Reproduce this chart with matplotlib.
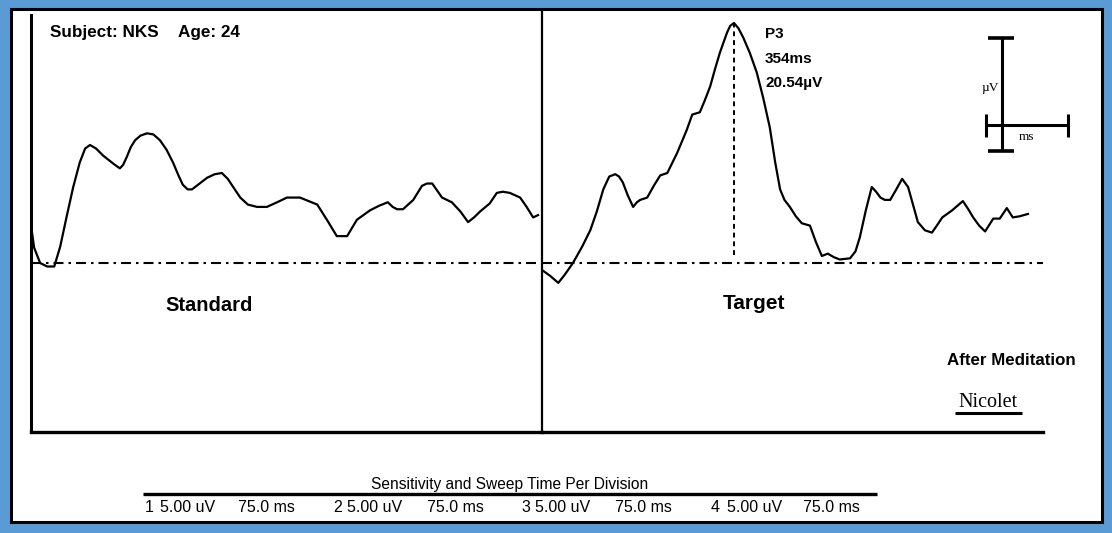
import matplotlib.pyplot as plt
from matplotlib.lines import Line2D
from matplotlib.patches import Rectangle

W, H = 1112, 533

# averaged ERP waveforms (ms after stimulus, microvolts)
standard_ms = [0, 4, 15, 28, 41, 52, 64, 76, 88, 98, 107, 118, 131, 150, 162, 168,
               175, 182, 190, 200, 212, 224, 236, 248, 260, 270, 278, 287, 295, 309,
               323, 337, 350, 361, 371, 384, 398, 415, 433, 452, 470, 494, 510, 526,
               545, 562, 581, 590, 599, 611, 623, 640, 656, 665, 673, 684, 703, 711,
               719, 728, 738, 747, 756, 774, 790, 804, 815, 826, 844, 857, 868, 881,
               900, 912, 924, 933]
standard_uv = [2.6, 1.3, 0.0, -0.3, -0.3, 1.4, 4.0, 6.5, 8.6, 9.8, 10.1, 9.8, 9.2,
               8.5, 8.1, 8.4, 9.1, 9.9, 10.5, 10.9, 11.1, 11.0, 10.5, 9.7, 8.6, 7.5,
               6.7, 6.3, 6.3, 6.8, 7.3, 7.6, 7.7, 7.2, 6.5, 5.6, 5.0, 4.8, 4.8, 5.2,
               5.6, 5.6, 5.3, 5.0, 3.6, 2.3, 2.3, 3.0, 3.7, 4.1, 4.5, 4.9, 5.2, 4.8,
               4.6, 4.6, 5.4, 6.0, 6.6, 6.8, 6.8, 6.2, 5.6, 5.2, 4.4, 3.5, 3.9, 4.4,
               5.1, 6.0, 6.1, 6.0, 5.6, 4.8, 3.9, 4.1]

target_ms = [0, 15, 30, 42, 57, 74, 89, 101, 113, 124, 135, 142, 149, 158, 168, 175,
             181, 194, 206, 218, 231, 249, 267, 277, 291, 300, 310, 319, 328, 341,
             347, 354, 362, 371, 383, 396, 408, 420, 430, 439, 447, 457, 468, 479,
             494, 505, 516, 527, 538, 549, 568, 578, 586, 597, 608, 616, 624, 632,
             642, 652, 664, 675, 684, 693, 706, 719, 728, 738, 756, 776, 786, 795,
             806, 817, 832, 844, 857, 868, 881, 896]
target_uv = [-0.6, -1.1, -1.7, -1.0, 0.0, 1.4, 2.8, 4.4, 6.3, 7.4, 7.6, 7.4, 6.9,
             5.8, 4.8, 5.2, 5.4, 5.6, 6.6, 7.5, 7.7, 9.4, 11.4, 12.7, 12.9, 13.9,
             15.1, 16.6, 18.0, 19.7, 20.3, 20.54, 20.1, 19.3, 18.0, 16.3, 14.1, 11.6,
             8.6, 6.3, 5.4, 4.8, 4.0, 3.4, 3.2, 1.8, 0.6, 0.8, 0.5, 0.3, 0.4, 1.0,
             2.2, 4.5, 6.5, 6.1, 5.6, 5.4, 5.4, 6.2, 7.2, 6.5, 5.0, 3.5, 2.8, 2.6,
             3.2, 3.9, 4.5, 5.3, 4.6, 3.9, 3.2, 2.7, 3.8, 3.8, 4.7, 3.9, 4.0, 4.2]

p3_ms = 354
p3_uv = 20.54

channels = ["1", "2", "3", "4"]
sensitivity = ["5.00 uV"] * 4
sweep = ["75.0 ms"] * 4

SANS = ["Liberation Sans", "DejaVu Sans"]
SERIF = ["Liberation Serif", "DejaVu Serif"]
BLUE = "#5b9bd5"

MS_PER_PX = 354 / 192.0
UV_PER_PX = 20.54 / 240.0


def fx(x):
    return x / W


def fy(y):
    return 1 - y / H


def fline(xs, ys, lw):
    fig.add_artist(Line2D([fx(x) for x in xs], [fy(y) for y in ys],
                          color="black", lw=lw, solid_capstyle="butt", zorder=3))


fig = plt.figure(figsize=(W / 100, H / 100), dpi=100, facecolor=BLUE)
fig.add_artist(Rectangle((fx(10.5), fy(521.5)), fx(1101.5) - fx(10.5), fy(8.5) - fy(521.5),
                         transform=fig.transFigure, facecolor="white",
                         edgecolor="black", lw=2.2, zorder=-5))

top, bot = 10, 432
ylo = (263 - bot) * UV_PER_PX
yhi = (263 - top) * UV_PER_PX

ax1 = fig.add_axes([fx(31), fy(bot), fx(542) - fx(31), fy(top) - fy(bot)])
ax1.set_xlim(-1 * MS_PER_PX, 510 * MS_PER_PX)
ax2 = fig.add_axes([fx(542), fy(bot), fx(1043) - fx(542), fy(top) - fy(bot)])
ax2.set_xlim(0, 501 * MS_PER_PX)

for ax in (ax1, ax2):
    ax.set_ylim(ylo, yhi)
    ax.patch.set_alpha(0)
    ax.set_xticks([])
    ax.set_yticks([])
    ax.spines["top"].set_visible(False)
    ax.spines["right"].set_visible(False)
    ax.spines["bottom"].set_linewidth(2.4)
    ax.axhline(0, color="black", lw=1.5, linestyle=(0, (4.8, 2.4, 1.2, 2.4)))

ax1.spines["left"].set_linewidth(2.2)
ax1.spines["left"].set_bounds(ylo, (263 - 15) * UV_PER_PX)
ax2.spines["left"].set_linewidth(1.6)

ax1.plot(standard_ms, standard_uv, color="black", lw=1.6, solid_joinstyle="round")
ax2.plot(target_ms, target_uv, color="black", lw=1.6, solid_joinstyle="round")
ax2.plot([p3_ms, p3_ms], [0.7, p3_uv], color="black", lw=1.4, linestyle=(0, (2.5, 2)))

# header and labels
fig.text(fx(50), fy(37), "Subject: NKS", family=SANS, weight="bold", fontsize=12.3)
fig.text(fx(178), fy(37), "Age: 24", family=SANS, weight="bold", fontsize=12.3)
fig.text(fx(765), fy(38), "P3", family=SANS, weight="bold", fontsize=11)
fig.text(fx(765), fy(63), f"{p3_ms}ms", family=SANS, weight="bold", fontsize=11)
fig.text(fx(765), fy(87), f"{p3_uv:.2f}\u00b5V", family=SANS, weight="bold", fontsize=11)
fig.text(fx(165), fy(311), "Standard", family=SANS, weight="bold", fontsize=14.5)
fig.text(fx(723), fy(309), "Target", family=SANS, weight="bold", fontsize=15)
fig.text(fx(947), fy(365), "After Meditation", family=SANS, weight="bold", fontsize=12.2)
fig.text(fx(958), fy(407), "Nicolet", family=SERIF, fontsize=14.5)
fline([955, 1022], [413, 413], 2.2)

# calibration cross
fline([1002, 1002], [38, 151], 2.2)
fline([988, 1014], [38, 38], 2.6)
fline([988, 1014], [151, 151], 2.6)
fline([986, 1068], [125, 125], 2.2)
fline([986, 986], [114, 137], 2.2)
fline([1068, 1068], [114, 137], 2.2)
fig.text(fx(990), fy(88), "\u00b5V", family=SERIF, fontsize=9.5, ha="center", va="center")
fig.text(fx(1027), fy(137), "ms", family=SERIF, fontsize=9.5, ha="center", va="center")

# sensitivity / sweep table
fig.text(fx(510), fy(489), "Sensitivity and Sweep Time Per Division", family=SANS,
         fontsize=11.2, ha="center")
fline([143, 877], [494, 494], 2.4)
ch_x = [145, 333, 521, 711]
sens_x = [160, 347, 535, 727]
sweep_x = [238, 427, 615, 803]
for i in range(len(channels)):
    fig.text(fx(ch_x[i]), fy(512), channels[i], family=SANS, fontsize=11.5)
    fig.text(fx(sens_x[i]), fy(512), sensitivity[i], family=SANS, fontsize=11.5)
    fig.text(fx(sweep_x[i]), fy(512), sweep[i], family=SANS, fontsize=11.5)

fig.savefig("out.png", dpi=100, facecolor=BLUE)
